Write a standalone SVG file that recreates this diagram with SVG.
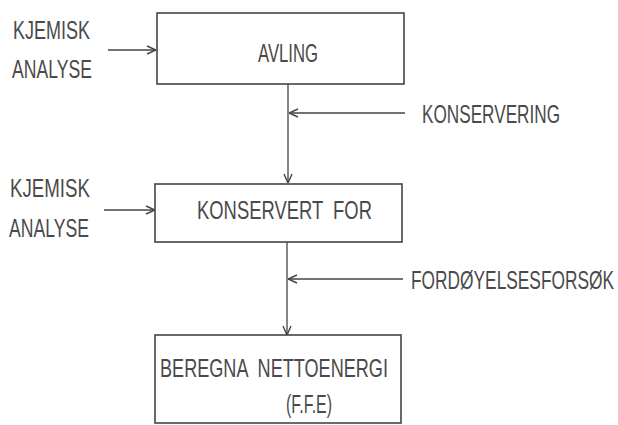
<svg xmlns="http://www.w3.org/2000/svg" width="618" height="425" viewBox="0 0 618 425">
<style>
.box{fill:none;stroke:#444;stroke-width:1.6}
.ln{fill:none;stroke:#444;stroke-width:1.3;marker-end:url(#ah)}
text{font-family:"Liberation Sans",Arial,sans-serif;font-size:25px;fill:#4a4a4a;white-space:pre}
</style>
<defs>
<marker id="ah" viewBox="0 0 10 10" refX="10" refY="5" markerWidth="10" markerHeight="10" markerUnits="userSpaceOnUse" orient="auto">
<path d="M1,1 L10,5 L1,9" fill="none" stroke="#444" stroke-width="1.4"/>
</marker>
</defs>
<g id="connectors">
<line class="ln" x1="108" y1="50" x2="156" y2="50"/>
<line class="ln" x1="288" y1="84" x2="288" y2="183"/>
<line class="ln" x1="405" y1="113" x2="289" y2="113"/>
<line class="ln" x1="104" y1="210" x2="155" y2="210"/>
<line class="ln" x1="287" y1="242" x2="287" y2="335"/>
<line class="ln" x1="403" y1="279" x2="288" y2="279"/>
</g>
<g id="avling">
<rect class="box" x="157" y="13" width="247" height="71"/>
<text transform="scale(0.69,1)" x="373.9" y="62" textLength="87" lengthAdjust="spacingAndGlyphs">AVLING</text>
</g>
<g id="konservert-for">
<rect class="box" x="155" y="184" width="247" height="58"/>
<text transform="scale(0.69,1)" x="285.5" y="219" textLength="253.6" lengthAdjust="spacingAndGlyphs">KONSERVERT  FOR</text>
</g>
<g id="beregna">
<rect class="box" x="155" y="335" width="246" height="88"/>
<text transform="scale(0.69,1)" x="231.9" y="377" textLength="330.4" lengthAdjust="spacingAndGlyphs">BEREGNA  NETTOENERGI</text>
<text transform="scale(0.69,1)" x="414.5" y="413" textLength="66.7" lengthAdjust="spacingAndGlyphs">(F.F.E)</text>
</g>
<g id="kjemisk1">
<text transform="scale(0.69,1)" x="18.8" y="39" textLength="111.6" lengthAdjust="spacingAndGlyphs">KJEMISK</text>
<text transform="scale(0.69,1)" x="17.4" y="78" textLength="115.9" lengthAdjust="spacingAndGlyphs">ANALYSE</text>
</g>
<g id="kjemisk2">
<text transform="scale(0.69,1)" x="14.5" y="197" textLength="115.9" lengthAdjust="spacingAndGlyphs">KJEMISK</text>
<text transform="scale(0.69,1)" x="13" y="237" textLength="115.9" lengthAdjust="spacingAndGlyphs">ANALYSE</text>
</g>
<g id="konservering">
<text transform="scale(0.69,1)" x="611.6" y="123" textLength="200" lengthAdjust="spacingAndGlyphs">KONSERVERING</text>
</g>
<g id="fordoyelse">
<text transform="scale(0.69,1)" x="595.7" y="289" textLength="294.2" lengthAdjust="spacingAndGlyphs">FORDØYELSESFORSØK</text>
</g>
</svg>
